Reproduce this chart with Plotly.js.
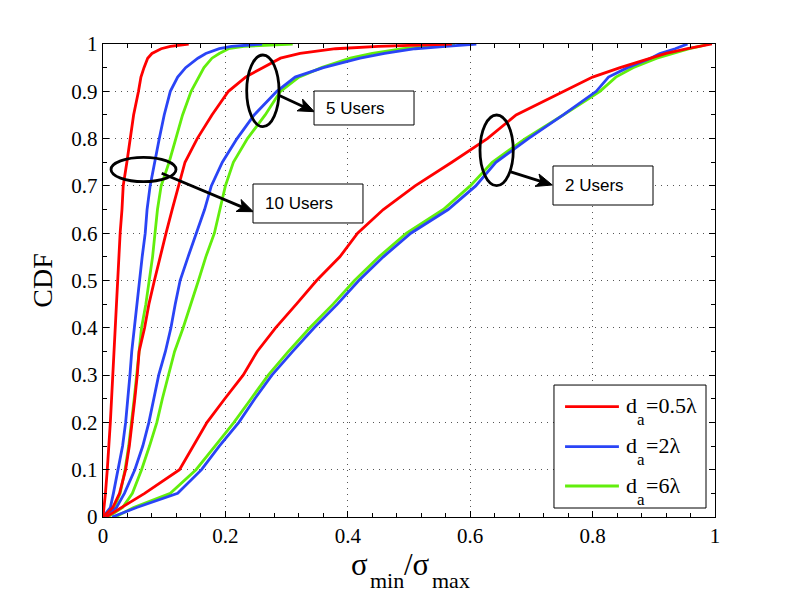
<!DOCTYPE html>
<html>
<head>
<meta charset="utf-8">
<script src="https://cdn.plot.ly/plotly-3.0.1.min.js"></script>
<style>html,body{margin:0;padding:0;background:#fff;}</style>
</head>
<body>
<div id="chart" style="width:789px;height:594px;"></div>
<script>
// CDF levels shared by all curves
var cdfLevels = [0, 0.02, 0.05, 0.1, 0.15, 0.2, 0.25, 0.3, 0.35, 0.4, 0.45, 0.5, 0.55, 0.6, 0.65, 0.7, 0.75, 0.8, 0.85, 0.9, 0.93, 0.95, 0.97, 0.98, 0.99, 0.995, 1];

// sigma_min/sigma_max values at each CDF level
// 10 users
var users10_d05 = [0, 0.002, 0.004, 0.007, 0.010, 0.012, 0.014, 0.016, 0.018, 0.019, 0.021, 0.023, 0.025, 0.028, 0.031, 0.033, 0.039, 0.044, 0.050, 0.058, 0.062, 0.067, 0.073, 0.080, 0.095, 0.110, 0.140];
var users10_d2  = [0, 0.012, 0.017, 0.025, 0.032, 0.037, 0.041, 0.044, 0.047, 0.051, 0.055, 0.060, 0.064, 0.069, 0.072, 0.077, 0.084, 0.092, 0.100, 0.110, 0.122, 0.135, 0.155, 0.168, 0.190, 0.210, 0.260];
var users10_d6  = [0.003, 0.018, 0.028, 0.036, 0.042, 0.047, 0.051, 0.055, 0.059, 0.063, 0.070, 0.076, 0.081, 0.085, 0.089, 0.095, 0.108, 0.119, 0.130, 0.144, 0.156, 0.165, 0.178, 0.190, 0.205, 0.230, 0.310];
// 5 users
var users5_d05 = [0, 0.016, 0.027, 0.037, 0.043, 0.048, 0.052, 0.056, 0.059, 0.068, 0.075, 0.084, 0.093, 0.103, 0.113, 0.123, 0.134, 0.154, 0.178, 0.205, 0.233, 0.261, 0.290, 0.322, 0.380, 0.450, 0.570];
var users5_d2  = [0, 0.022, 0.035, 0.052, 0.065, 0.075, 0.083, 0.091, 0.102, 0.111, 0.118, 0.126, 0.139, 0.153, 0.166, 0.177, 0.195, 0.219, 0.247, 0.284, 0.314, 0.360, 0.420, 0.460, 0.510, 0.560, 0.610];
var users5_d6  = [0.008, 0.032, 0.048, 0.063, 0.076, 0.088, 0.097, 0.107, 0.117, 0.131, 0.144, 0.156, 0.168, 0.182, 0.191, 0.200, 0.213, 0.236, 0.265, 0.290, 0.320, 0.357, 0.404, 0.440, 0.490, 0.530, 0.575];
// 2 users
var users2_d05 = [0.005, 0.030, 0.068, 0.125, 0.148, 0.170, 0.199, 0.229, 0.252, 0.282, 0.316, 0.349, 0.387, 0.416, 0.458, 0.510, 0.570, 0.628, 0.675, 0.752, 0.800, 0.845, 0.895, 0.920, 0.955, 0.975, 0.995];
var users2_d2  = [0.015, 0.055, 0.122, 0.161, 0.190, 0.222, 0.248, 0.276, 0.310, 0.345, 0.383, 0.418, 0.458, 0.503, 0.564, 0.609, 0.642, 0.695, 0.752, 0.806, 0.826, 0.857, 0.895, 0.910, 0.935, 0.945, 0.955];
var users2_d6  = [0.020, 0.050, 0.110, 0.152, 0.183, 0.214, 0.242, 0.270, 0.303, 0.338, 0.376, 0.411, 0.451, 0.496, 0.556, 0.600, 0.636, 0.690, 0.752, 0.812, 0.838, 0.866, 0.905, 0.930, 0.958, 0.975, 0.990];

// legend label parts: main letter, subscript, rest
var legendMain = ['d', 'd', 'd'];
var legendSub = ['a', 'a', 'a'];
var legendRest = ['=0.5λ', '=2λ', '=6λ'];
// x-axis title parts
var xTitleParts = ['σ', 'min', '/σ', 'max'];
var seriesColors = ['#ff0000', '#2a44f6', '#62ee0c'];
var groups = [
  {label: '10 Users', data: [users10_d05, users10_d2, users10_d6]},
  {label: '5 Users',  data: [users5_d05, users5_d2, users5_d6]},
  {label: '2 Users',  data: [users2_d05, users2_d2, users2_d6]}
];

var traces = [];
// draw green first, then blue, then red on top
[2, 1, 0].forEach(function (s) {
  groups.forEach(function (g) {
    traces.push({
      type: 'scatter', mode: 'lines',
      x: g.data[s], y: cdfLevels,
      name: 'd_a' + legendRest[s] + ' (' + g.label + ')',
      line: {color: seriesColors[s], width: 2.8},
      showlegend: false, hoverinfo: 'skip'
    });
  });
});

var serif = 'Liberation Serif, Times New Roman, serif';
var sans = 'Liberation Sans, Arial, Helvetica, sans-serif';

var margin = {l: 103, r: 74, t: 44, b: 77};
var plotW = 789 - margin.l - margin.r;   // pixels per x unit
var plotH = 594 - margin.t - margin.b;   // pixels per y unit

var shapes = [];
var annotations = [];

// ellipses marking curve groups
var ellipses = [
  [0.0131, 0.1193, 0.7089, 0.7605],
  [0.2348, 0.2876, 0.8252, 0.9767],
  [0.6160, 0.6704, 0.7004, 0.8499]
];
ellipses.forEach(function (e) {
  shapes.push({type: 'circle', xref: 'x', yref: 'y', x0: e[0], x1: e[1], y0: e[2], y1: e[3],
    line: {color: 'black', width: 2.8}, layer: 'above'});
});

// arrows [headX, headY, tailX, tailY]
var arrows = [
  [0.2456, 0.6455, 0.0959, 0.7266],
  [0.3453, 0.8569, 0.2864, 0.8922],
  [0.7342, 0.7019, 0.6650, 0.7300]
];
arrows.forEach(function (a) {
  var dxp = (a[0] - a[2]) * plotW, dyp = (a[1] - a[3]) * plotH;
  var len = Math.sqrt(dxp * dxp + dyp * dyp);
  var ux = dxp / len, uy = dyp / len;
  var headLen = 16, halfW = 6.5;
  var bx = -ux * headLen, by = -uy * headLen;
  var px = -uy * halfW, py = ux * halfW;
  var toX = function (p) { return p / plotW; }, toY = function (p) { return p / plotH; };
  var baseX = a[0] + toX(bx), baseY = a[1] + toY(by);
  shapes.push({type: 'line', xref: 'x', yref: 'y', x0: a[2], y0: a[3],
    x1: a[0] + toX(bx * 0.7), y1: a[1] + toY(by * 0.7),
    line: {color: 'black', width: 2.8}, layer: 'above'});
  var path = 'M' + a[0] + ',' + a[1] +
    ' L' + (baseX + toX(px)) + ',' + (baseY + toY(py)) +
    ' L' + (a[0] + toX(bx * 0.75)) + ',' + (a[1] + toY(by * 0.75)) +
    ' L' + (baseX - toX(px)) + ',' + (baseY - toY(py)) + ' Z';
  shapes.push({type: 'path', xref: 'x', yref: 'y', path: path, fillcolor: 'black',
    line: {color: 'black', width: 1}, layer: 'above'});
});

// label boxes [x0,x1,y0,y1, text]
var boxes = [
  [0.3448, 0.5082, 0.8288, 0.9006, '5 Users'],
  [0.2451, 0.4248, 0.6216, 0.7040, '10 Users'],
  [0.7353, 0.8987, 0.6596, 0.7421, '2 Users']
];
boxes.forEach(function (b) {
  shapes.push({type: 'rect', xref: 'x', yref: 'y', x0: b[0], x1: b[1], y0: b[2], y1: b[3],
    line: {color: 'black', width: 1}, fillcolor: 'white', layer: 'above'});
  annotations.push({xref: 'x', yref: 'y', x: b[0] + 0.016, y: (b[2] + b[3]) / 2,
    xanchor: 'left', yanchor: 'middle', text: b[4], showarrow: false,
    font: {family: sans, size: 17, color: 'black'}});
});

// legend (drawn in paper coordinates)
shapes.push({type: 'rect', xref: 'paper', yref: 'paper', x0: 0.7369, x1: 0.9853, y0: 0.019, y1: 0.279,
  line: {color: 'black', width: 1}, fillcolor: 'white', layer: 'above'});
var legendRows = [0.2332, 0.1487, 0.0655];
legendRows.forEach(function (ry, i) {
  shapes.push({type: 'line', xref: 'paper', yref: 'paper', x0: 0.755, x1: 0.843, y0: ry, y1: ry,
    line: {color: seriesColors[i], width: 2.8}, layer: 'above'});
  annotations.push({xref: 'paper', yref: 'paper', x: 0.851, y: ry, xanchor: 'left', yanchor: 'middle',
    yshift: 1, text: legendMain[i], showarrow: false, font: {family: serif, size: 22, color: 'black'}});
  annotations.push({xref: 'paper', yref: 'paper', x: 0.869, y: ry, xanchor: 'left', yanchor: 'middle',
    yshift: -13, text: legendSub[i], showarrow: false, font: {family: serif, size: 17, color: 'black'}});
  annotations.push({xref: 'paper', yref: 'paper', x: 0.8835, y: ry, xanchor: 'left', yanchor: 'middle',
    yshift: 1, text: legendRest[i], showarrow: false, font: {family: serif, size: 22, color: 'black'}});
});

// x-axis title built from main/subscript pieces: [text, xPaper, yPaper, size]
var xTitleLayout = [
  [xTitleParts[0], 0.4020, -0.0994, 31],
  [xTitleParts[1], 0.4325, -0.1332, 22],
  [xTitleParts[2], 0.4880, -0.0994, 31],
  [xTitleParts[3], 0.5335, -0.1332, 22]
];
xTitleLayout.forEach(function (t) {
  annotations.push({xref: 'paper', yref: 'paper', x: t[1], y: t[2], xanchor: 'left', yanchor: 'middle',
    text: t[0], showarrow: false, font: {family: serif, size: t[3], color: 'black'}});
});

var gridDash = '1px,5px';
var layout = {
  width: 789, height: 594,
  margin: margin,
  paper_bgcolor: 'white', plot_bgcolor: 'white',
  showlegend: false,
  xaxis: {
    range: [0, 1], tick0: 0, dtick: 0.2, ticks: 'inside', ticklen: 6, tickwidth: 1, tickcolor: 'black',
    showline: true, linecolor: 'black', linewidth: 1.2, mirror: 'ticks',
    showgrid: true, gridcolor: '#555555', griddash: gridDash, gridwidth: 1, zeroline: false,
    minor: {tick0: 0, dtick: 0.04, ticks: 'inside', ticklen: 4, tickwidth: 1, tickcolor: 'black', showgrid: false},
    tickfont: {family: serif, size: 21, color: 'black'}
  },
  yaxis: {
    range: [0, 1], tick0: 0, dtick: 0.1, ticks: 'inside', ticklen: 6, tickwidth: 1, tickcolor: 'black',
    showline: true, linecolor: 'black', linewidth: 1.2, mirror: 'ticks',
    showgrid: true, gridcolor: '#555555', griddash: gridDash, gridwidth: 1, zeroline: false,
    minor: {tick0: 0, dtick: 0.05, ticks: 'inside', ticklen: 4, tickwidth: 1, tickcolor: 'black', showgrid: false},
    tickfont: {family: serif, size: 21, color: 'black'},
    title: {text: 'CDF', font: {family: serif, size: 28, color: 'black'}, standoff: 10}
  },
  shapes: shapes,
  annotations: annotations
};

Plotly.newPlot('chart', traces, layout, {displayModeBar: false, staticPlot: true});
</script>
</body>
</html>
